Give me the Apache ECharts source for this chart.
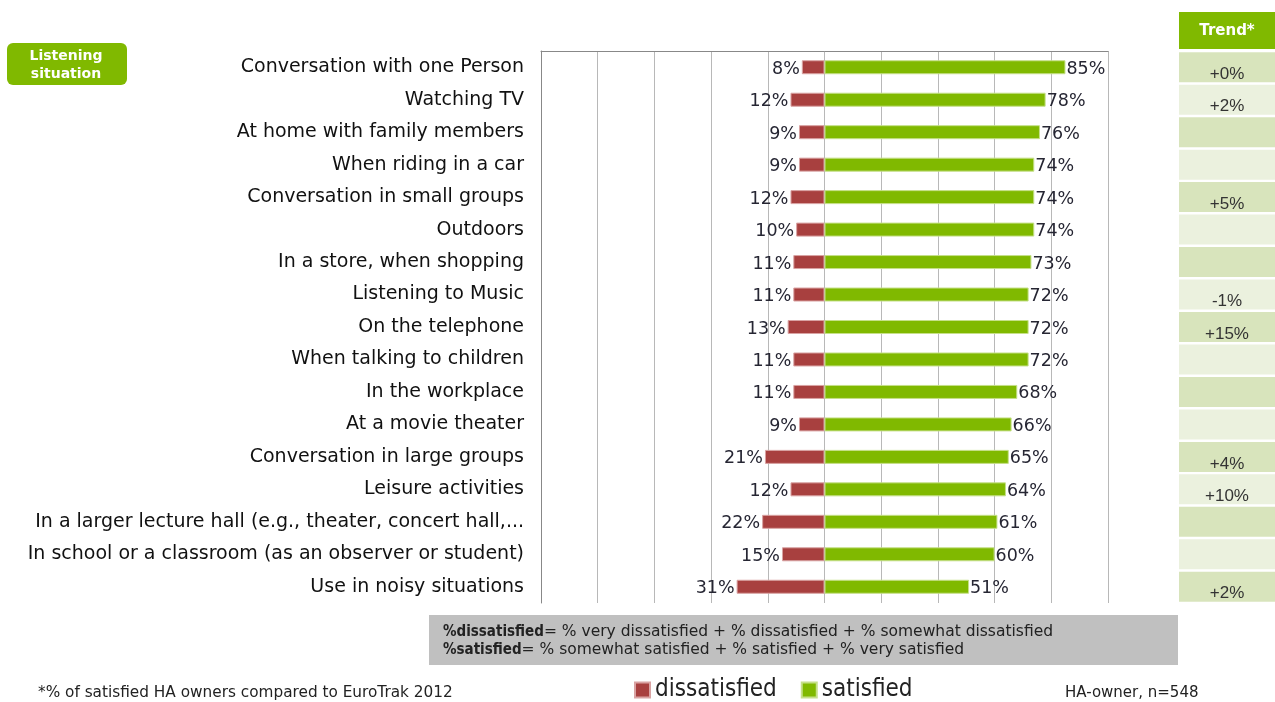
<!DOCTYPE html>
<html>
<head>
<meta charset="utf-8">
<script src="https://cdn.jsdelivr.net/npm/echarts@6/dist/echarts.min.js"></script>
<style>
  html, body { margin: 0; padding: 0; background: #fff; }
  #chart { width: 1275px; height: 702px; }
</style>
</head>
<body>
<div id="chart"></div>
<script>
// listening situations, top to bottom
const categories = [
  'Conversation with one Person',
  'Watching TV',
  'At home with family members',
  'When riding in a car',
  'Conversation in small groups',
  'Outdoors',
  'In a store, when shopping',
  'Listening to Music',
  'On the telephone',
  'When talking to children',
  'In the workplace',
  'At a movie theater',
  'Conversation in large groups',
  'Leisure activities',
  'In a larger lecture hall (e.g., theater, concert hall,...',
  'In school or a classroom (as an observer or student)',
  'Use in noisy situations'
];
const dissatisfied = [8, 12, 9, 9, 12, 10, 11, 11, 13, 11, 11, 9, 21, 12, 22, 15, 31];
const satisfied = [85, 78, 76, 74, 74, 74, 73, 72, 72, 72, 68, 66, 65, 64, 61, 60, 51];
const trend = ['+0%', '+2%', '', '', '+5%', '', '', '-1%', '+15%', '', '', '', '+4%', '+10%', '', '', '+2%'];

const xMin = -100, xMax = 100, xStep = 20;

const RED = '#A8403F';
const GREEN = '#80B900';
const FONT = '"DejaVu Sans", Verdana, sans-serif';
const labelStyle = { fontFamily: FONT, fontSize: 17.5, color: '#262633' };

let chart = echarts.init(document.getElementById('chart'));

const option = {
  animation: false,
  textStyle: { fontFamily: FONT },
  grid: [
    { left: 541, right: 167, top: 51, bottom: 99 },
    { left: 1179, right: 0, top: 51, bottom: 99 }
  ],
  legend: {
    left: 629, top: 673,
    icon: 'rect', itemWidth: 15, itemHeight: 15, itemGap: 24,
    selectedMode: false,
    textStyle: { fontFamily: '"DejaVu Sans Condensed", sans-serif', fontSize: 24, color: '#222' },
    data: ['dissatisfied', 'satisfied']
  },
  xAxis: [
    {
      gridIndex: 0, type: 'value', position: 'top', min: xMin, max: xMax, interval: xStep,
      axisLine: { show: true, onZero: false, lineStyle: { color: '#888' } },
      axisTick: { show: false }, axisLabel: { show: false },
      splitLine: { lineStyle: { color: '#B8B8B8' } }
    },
    {
      gridIndex: 1, type: 'value', min: 0, max: 1, show: false
    }
  ],
  yAxis: [
    {
      gridIndex: 0, type: 'category', inverse: true, data: categories,
      axisLine: { onZero: false, lineStyle: { color: '#888' } },
      axisTick: { length: 6, lineStyle: { color: '#888' } },
      axisLabel: { margin: 17, padding: [6, 0, 0, 0], fontFamily: FONT, fontSize: 19, color: '#111' }
    },
    {
      gridIndex: 1, type: 'category', inverse: true, data: categories, show: false
    }
  ],
  series: [
    {
      name: 'dissatisfied', type: 'bar', stack: 'a', barWidth: 14,
      xAxisIndex: 0, yAxisIndex: 0,
      itemStyle: { color: RED, borderColor: '#D9A3A3', borderWidth: 1 },
      label: {
        show: true, position: 'left', distance: 2, offset: [0, 2], ...labelStyle,
        formatter: p => Math.abs(p.value) + '%'
      },
      data: dissatisfied.map(v => -v)
    },
    {
      name: 'satisfied', type: 'bar', stack: 'a', barWidth: 14,
      xAxisIndex: 0, yAxisIndex: 0,
      itemStyle: { color: GREEN, borderColor: '#C6E08A', borderWidth: 1 },
      label: {
        show: true, position: 'right', distance: 1, offset: [0, 2], ...labelStyle,
        formatter: p => p.value + '%'
      },
      data: satisfied
    },
    {
      name: 'trend', type: 'bar', barWidth: 30, silent: true,
      xAxisIndex: 1, yAxisIndex: 1,
      label: {
        show: true, position: 'inside', offset: [0, 7],
        fontFamily: '"Liberation Sans", Arial, sans-serif', fontSize: 17, color: '#333',
        formatter: p => trend[p.dataIndex]
      },
      data: trend.map((t, i) => ({
        value: 1,
        itemStyle: { color: i % 2 === 0 ? '#D8E4BC' : '#EBF1DE' }
      }))
    }
  ],
  graphic: [
    // "Listening situation" badge
    {
      type: 'rect', left: 7, top: 43,
      shape: { width: 120, height: 42, r: 6 },
      style: { fill: GREEN }
    },
    {
      type: 'text', x: 66, y: 47,
      style: {
        text: 'Listening\nsituation', fill: '#fff', align: 'center',
        font: 'bold 14px "DejaVu Sans", sans-serif', lineHeight: 18
      }
    },
    // trend header
    {
      type: 'rect', left: 1179, top: 12,
      shape: { width: 96, height: 37 },
      style: { fill: GREEN }
    },
    {
      type: 'text', x: 1227, y: 24,
      style: { text: 'Trend*', fill: '#fff', align: 'center', font: 'bold 15px "DejaVu Sans", sans-serif' }
    },
    // definition box
    {
      type: 'rect', left: 429, top: 615,
      shape: { width: 749, height: 50 },
      style: { fill: '#C0C0C0' }
    },
    {
      type: 'text', left: 443, top: 623,
      style: {
        text: '{b|%dissatisfied}= % very dissatisfied + % dissatisfied + % somewhat dissatisfied\n' +
              '{b|%satisfied}= % somewhat satisfied + % satisfied + % very satisfied',
        fill: '#222', lineHeight: 18,
        font: '15.5px "DejaVu Sans", sans-serif',
        rich: { b: { fontWeight: 'bold', fontSize: 15, fontFamily: '"DejaVu Sans Condensed", sans-serif', fill: '#222' } }
      }
    },
    // footnotes
    {
      type: 'text', left: 38, top: 686,
      style: { text: '*% of satisfied HA owners compared to EuroTrak 2012', fill: '#222', font: '15.3px "DejaVu Sans", sans-serif' }
    },
    {
      type: 'text', left: 1065, top: 686,
      style: { text: 'HA-owner, n=548', fill: '#222', font: '15px "DejaVu Sans", sans-serif' }
    }
  ]
};

chart.setOption(option);
</script>
</body>
</html>
